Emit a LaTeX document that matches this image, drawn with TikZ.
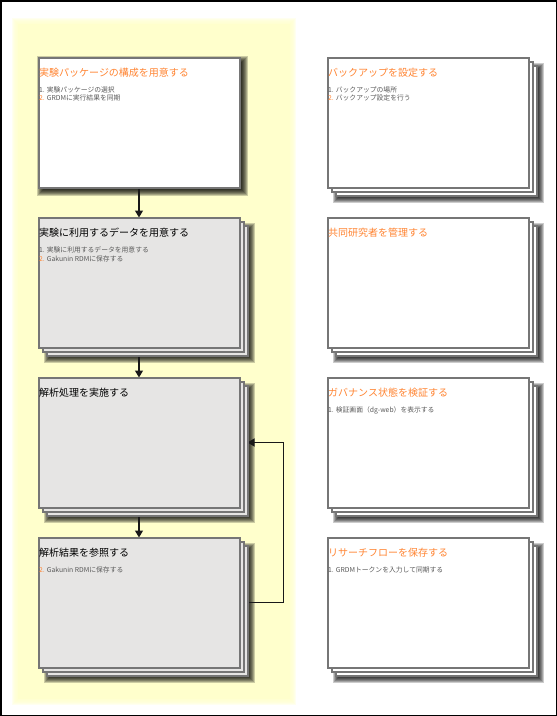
\documentclass[tikz,border=0pt]{standalone}
\usepackage{fontspec}
\setmainfont{Noto Sans CJK JP}
\usetikzlibrary{positioning,shadows,arrows.meta,backgrounds}
\definecolor{band}{HTML}{FFFFCC}
\definecolor{cardgray}{HTML}{E6E5E4}
\definecolor{cardline}{HTML}{767676}
\definecolor{ttlorange}{HTML}{FF8533}
\definecolor{itemgray}{HTML}{5A5A5A}
\tikzset{
  card/.style={draw=cardline,line width=2pt,minimum width=201pt,minimum height=130pt,inner sep=0pt,outer sep=0pt},
  stack/.style={card,copy shadow={shadow xshift=8pt,shadow yshift=-8pt},copy shadow={shadow xshift=4pt,shadow yshift=-4pt}},
  ttl/.style={font=\fontsize{10}{12}\selectfont,text=ttlorange,inner sep=0pt,anchor=west},
  ttlb/.style={ttl,text=black},
  items/.style={font=\fontsize{6.8}{8.5}\selectfont,text=itemgray,align=left,inner sep=0pt,anchor=north west},
  arr/.style={draw=black!90,line width=1.3pt,-{Triangle[width=8pt,length=7pt]}},
  haze/.style={fill=black,opacity=.2}
}
\newcommand{\two}{\textcolor{ttlorange}{2.}}
\begin{document}
\begin{tikzpicture}[x=1pt,y=-1pt]
\useasboundingbox (0,0) rectangle (557,716);
\node[card,fill=white] (pkg) at (139,122.5) {};
\node[stack,fill=cardgray,below=30pt of pkg] (data) {};
\node[stack,fill=cardgray,below=30pt of data] (anal) {};
\node[stack,fill=cardgray,below=30pt of anal] (view) {};
\node[stack,fill=white,right=88pt of pkg] (bkup) {};
\node[stack,fill=white,below=30pt of bkup] (coll) {};
\node[stack,fill=white,below=30pt of coll] (gov) {};
\node[stack,fill=white,below=30pt of gov] (flow) {};

\node[ttl] (pkg-t) at ([xshift=0.5pt,yshift=-15pt]pkg.north west) {実験パッケージの構成を用意する};
\node[items] (pkg-i) at ([xshift=0.5pt,yshift=-29pt]pkg.north west) {1. 実験パッケージの選択\\\two{} GRDMに実行結果を同期};
\node[ttlb] (data-t) at ([xshift=0.5pt,yshift=-15pt]data.north west) {実験に利用するデータを用意する};
\node[items] (data-i) at ([xshift=0.5pt,yshift=-29pt]data.north west) {1. 実験に利用するデータを用意する\\\two{} Gakunin RDMに保存する};
\node[ttlb] (anal-t) at ([xshift=0.5pt,yshift=-15pt]anal.north west) {解析処理を実施する};
\node[ttlb] (view-t) at ([xshift=0.5pt,yshift=-15pt]view.north west) {解析結果を参照する};
\node[items] (view-i) at ([xshift=0.5pt,yshift=-29pt]view.north west) {\two{} Gakunin RDMに保存する};
\node[ttl] (bkup-t) at ([xshift=0.5pt,yshift=-15pt]bkup.north west) {バックアップを設定する};
\node[items] (bkup-i) at ([xshift=0.5pt,yshift=-29pt]bkup.north west) {1. バックアップの場所\\\two{} バックアップ設定を行う};
\node[ttl] (coll-t) at ([xshift=0.5pt,yshift=-15pt]coll.north west) {共同研究者を管理する};
\node[ttl] (gov-t) at ([xshift=0.5pt,yshift=-15pt]gov.north west) {ガバナンス状態を検証する};
\node[items] (gov-i) at ([xshift=0.5pt,yshift=-29pt]gov.north west) {1. 検証画面（dg-web）を表示する};
\node[ttl] (flow-t) at ([xshift=0.5pt,yshift=-15pt]flow.north west) {リサーチフローを保存する};
\node[items] (flow-i) at ([xshift=0.5pt,yshift=-29pt]flow.north west) {1. GRDMトークンを入力して同期する};

\begin{scope}[on background layer]
\fill[band] (18,24) rectangle (290,699);
\foreach \i in {1,...,6} \fill[band,opacity=.3] (18-\i,24-\i) rectangle (290+\i,699+\i);
\foreach \n/\s in {pkg/3,data/10,anal/10,view/10,bkup/10,coll/10,gov/10,flow/10}
  \foreach \e in {-5,...,5}
    \fill[haze] ([shift={(\s-\e,\s-\e)}]\n.north west) rectangle ([shift={(\s+\e,\s+\e)}]\n.south east);
\draw[arr] (pkg) -- (data);
\draw[arr] (data) -- (anal);
\draw[arr] (anal) -- (view);
\draw[arr] (view.east) -- ++(44,0) |- ([xshift=8pt]anal.east);
\end{scope}
\draw[line width=1.5pt] (0.75,0.75) rectangle (556.25,715.25);
\end{tikzpicture}
\end{document}
